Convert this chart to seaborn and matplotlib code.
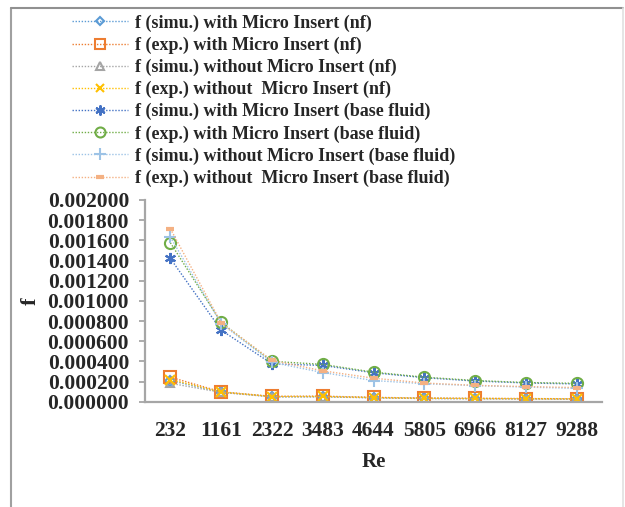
import numpy as np
import pandas as pd
import matplotlib
matplotlib.use("Agg")
import matplotlib.pyplot as plt
import seaborn as sns
from matplotlib.lines import Line2D

re_labels = ["232", "1161", "2322", "3483", "4644", "5805", "6966", "8127", "9288"]

series_names = [
    "f (simu.) with Micro Insert (nf)",
    "f (exp.) with Micro Insert (nf)",
    "f (simu.) without Micro Insert (nf)",
    "f (exp.) without  Micro Insert (nf)",
    "f (simu.) with Micro Insert (base fluid)",
    "f (exp.) with Micro Insert (base fluid)",
    "f (simu.) without Micro Insert (base fluid)",
    "f (exp.) without  Micro Insert (base fluid)",
]

simu_with_nf = [0.000210, 0.000095, 0.000050, 0.000050, 0.000040, 0.000033, 0.000031, 0.000029, 0.000027]
exp_with_nf = [0.000243, 0.000098, 0.000053, 0.000055, 0.000043, 0.000036, 0.000033, 0.000031, 0.000029]
simu_without_nf = [0.000183, 0.000092, 0.000048, 0.000048, 0.000038, 0.000031, 0.000029, 0.000027, 0.000025]
exp_without_nf = [0.000220, 0.000096, 0.000051, 0.000052, 0.000041, 0.000034, 0.000032, 0.000030, 0.000028]
simu_with_bf = [0.001420, 0.000710, 0.000375, 0.000360, 0.000287, 0.000238, 0.000205, 0.000186, 0.000176]
exp_with_bf = [0.001576, 0.000786, 0.000400, 0.000370, 0.000293, 0.000243, 0.000210, 0.000190, 0.000182]
simu_without_bf = [0.001632, 0.000775, 0.000390, 0.000289, 0.000210, 0.000178, 0.000160, 0.000145, 0.000132]
exp_without_bf = [0.001715, 0.000782, 0.000410, 0.000306, 0.000233, 0.000185, 0.000162, 0.000150, 0.000140]

all_values = [simu_with_nf, exp_with_nf, simu_without_nf, exp_without_nf,
              simu_with_bf, exp_with_bf, simu_without_bf, exp_without_bf]

colors = ["#5B9BD5", "#ED7D31", "#A5A5A5", "#FFC000",
          "#4472C4", "#70AD47", "#9DC3E6", "#F4B183"]
markers = ["D", "s", "^", "x", (6, 2, 0), "o", "+", "_"]
msizes = [5, 8, 6, 7, 8, 8, 9, 6]
filled = [False, False, False, True, True, False, True, True]

rows = []
for name, vals in zip(series_names, all_values):
    for r, v in zip(re_labels, vals):
        rows.append({"Re": r, "f": v, "series": name})
df = pd.DataFrame(rows)

sns.set_style("white")
plt.rcParams['font.family'] = ['Liberation Serif', 'DejaVu Serif']
plt.rcParams['font.weight'] = 'bold'

fig = plt.figure(figsize=(6.25, 5.07), dpi=100)
ax = fig.add_axes([145/625, 1-401.7/507, (602-145)/625, (401.7-200)/507])

dots = (0, (1, 1.2))
for name, c, m, ms, fl in zip(series_names, colors, markers, msizes, filled):
    sub = df[df["series"] == name]
    mew = 3 if m == "_" else 1.5
    sns.lineplot(data=sub, x="Re", y="f", ax=ax, sort=False, color=c,
                 linestyle=dots, linewidth=1.0, marker=m, markersize=ms,
                 markerfacecolor=(c if fl else "none"), markeredgecolor=c,
                 markeredgewidth=mew, legend=False)

yt = np.arange(0, 0.00201, 0.0002)
ax.set_xlim(-0.5, 8.5)
ax.set_ylim(0, 0.002)
ax.set_yticks(yt)
ax.set_yticklabels([f"{v:.6f}" for v in yt], fontsize=15.5, fontweight='bold')
ax.set_xticks(range(len(re_labels)))
ax.set_xticklabels(re_labels, fontsize=15.5, fontweight='bold')
ax.tick_params(axis='y', which='major', direction='out', length=4.5, width=1.3,
               color='#A6A6A6', left=True, pad=7)
ax.tick_params(axis='x', length=0, pad=14)
for s in ["top", "right"]:
    ax.spines[s].set_visible(False)
for s in ["left", "bottom"]:
    ax.spines[s].set_color('#A6A6A6')
    ax.spines[s].set_linewidth(1.6)
ax.set_xlabel("Re", fontsize=15, fontweight='bold', labelpad=8)
ax.set_ylabel("f", fontsize=16, fontweight='bold', labelpad=5)
ax.grid(False)

handles = []
for name, c, m, ms, fl in zip(series_names, colors, markers, msizes, filled):
    mew = 3 if m == "_" else 1.5
    handles.append(Line2D([0], [0], color=c, linestyle=dots, linewidth=1.0,
                          marker=m, markersize=ms * 0.9, markerfacecolor=(c if fl else "none"),
                          markeredgecolor=c, markeredgewidth=mew))
leg = fig.legend(handles, series_names, loc="upper left",
                 bbox_to_anchor=(66.6/625, 1-9/507), frameon=False,
                 prop={'family': 'Liberation Serif', 'weight': 'bold', 'size': 13},
                 handlelength=3.1, handletextpad=0.4, labelspacing=0.27,
                 borderaxespad=0, borderpad=0.3)

# figure border
fig.add_artist(Line2D([11/625, 11/625], [0, 1-8/507], transform=fig.transFigure,
                      color='#A0A0A0', linewidth=1.5))
fig.add_artist(Line2D([11/625, 623/625], [1-8/507, 1-8/507], transform=fig.transFigure,
                      color='#909090', linewidth=1.5))
fig.add_artist(Line2D([623/625, 623/625], [0, 1-8/507], transform=fig.transFigure,
                      color='#E0E0E0', linewidth=1.2))

fig.savefig("out.png", dpi=100)
